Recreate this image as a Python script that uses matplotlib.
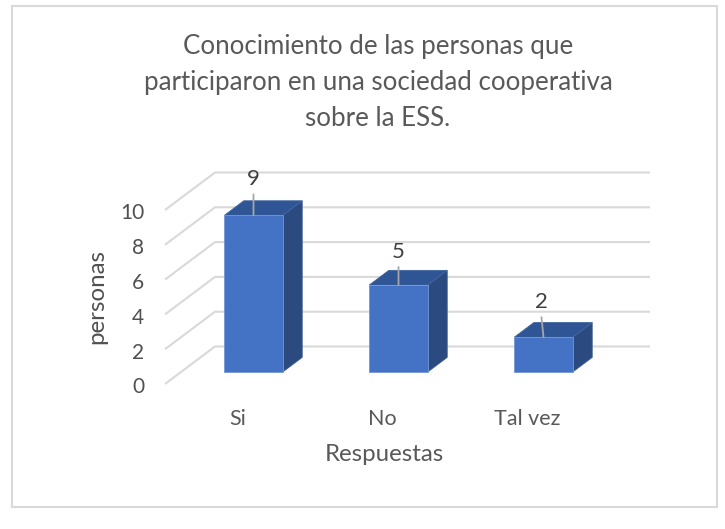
import matplotlib
matplotlib.use('Agg')
import matplotlib.pyplot as plt
from matplotlib.patches import Polygon, Rectangle
from matplotlib.transforms import ScaledTranslation

categories = ['Si', 'No', 'Tal vez']
values = [9, 5, 2]
y_ticks = [0, 2, 4, 6, 8, 10]
title = 'Conocimiento de las personas que\nparticiparon en una sociedad cooperativa\nsobre la ESS.'
x_label = 'Respuestas'
y_label = 'personas'

plt.rcParams['font.family'] = ['Lato', 'DejaVu Sans']

W, H = 725, 529
fig = plt.figure(figsize=(W / 100, H / 100), dpi=100, facecolor='white')

# frame around the chart
fig.add_artist(Rectangle((12 / W, 1 - 506.5 / H), 705 / W, 501 / H, transform=fig.transFigure,
                         fill=False, edgecolor='#d9d9d9', linewidth=1.5))

# axes = front plane of the fake 3d box
ax = fig.add_axes([165 / W, 1 - 384 / H, 435 / W, 174 / H])
ax.patch.set_alpha(0)
ax.set_xlim(-0.5, 2.5)
ax.set_ylim(0, 10)
for s in ax.spines.values():
    s.set_visible(False)

# depth of the box in data units
dx = 50 / 145
dy = 37.5 / 17.4
bar_w = 0.403
near = 0.32
far = 0.71

# label placement per bar, in px above the bar top: label centre, leader end, sideways lean
label_up = [36.5, 32.5, 35]
leader_up = [21, 18, 20]
lean = [0, 0, -2]

for t in y_ticks:
    ax.plot([-0.5, -0.5 + dx, 2.5 + dx], [t, t + dy, t + dy], color='#d9d9d9', lw=1.5,
            clip_on=False, zorder=1, solid_capstyle='butt', solid_joinstyle='miter')

for i, v in enumerate(values):
    x0 = i - bar_w / 2 + near * dx
    x1 = x0 + bar_w
    y0 = near * dy
    y1 = y0 + v
    ddx = (far - near) * dx
    ddy = (far - near) * dy
    ax.add_patch(Polygon([(x1, y0), (x1 + ddx, y0 + ddy), (x1 + ddx, y1 + ddy), (x1, y1)],
                         facecolor='#2a4a80', edgecolor='#3c5c94', lw=0.6, clip_on=False, zorder=3))
    ax.add_patch(Polygon([(x0, y1), (x1, y1), (x1 + ddx, y1 + ddy), (x0 + ddx, y1 + ddy)],
                         facecolor='#305595', edgecolor='#41659f', lw=0.6, clip_on=False, zorder=3))
    ax.bar(x0, v, width=bar_w, bottom=y0, align='edge', color='#4472c4', edgecolor='#7396d6',
           lw=0.6, clip_on=False, zorder=4)

    # value label with its leader line
    top = (i + near * dx, y1)
    ax.annotate('', xy=top, xytext=(lean[i] * 0.72, leader_up[i] * 0.72), textcoords='offset points',
                annotation_clip=False, zorder=5,
                arrowprops=dict(arrowstyle='-', color='#a6a6a6', lw=1.3, shrinkA=0, shrinkB=0))
    ax.annotate(str(v), xy=top, xytext=(lean[i] * 0.72, label_up[i] * 0.72), textcoords='offset points',
                ha='center', va='center', fontsize=16, color='#404040', annotation_clip=False, zorder=6)

ax.set_xticks(range(len(categories)))
ax.set_xticklabels(categories, fontsize=15.5, color='#595959')
ax.set_yticks(y_ticks)
ax.set_yticklabels([str(t) for t in y_ticks], fontsize=15, color='#505050')
ax.tick_params(axis='x', length=0, pad=18)
ax.tick_params(axis='y', length=0, pad=15)
shift = ScaledTranslation(0, -1 / 72, fig.dpi_scale_trans)
for lab in ax.get_yticklabels():
    lab.set_transform(lab.get_transform() + shift)

ax.set_xlabel(x_label, fontsize=17.3, color='#595959')
ax.set_ylabel(y_label, fontsize=17.3, color='#505050')
ax.xaxis.set_label_coords((384 - 165) / 435, (384 - 454) / 174)
ax.yaxis.set_label_coords((97 - 165) / 435, (384 - 296) / 174)
ax.xaxis.label.set_va('center')
ax.yaxis.label.set_va('center')

fig.text(378 / W, 1 - 83 / H, title, ha='center', va='center', fontsize=18.6, color='#595959',
         linespacing=1.55)

fig.savefig('out.png', dpi=100)
